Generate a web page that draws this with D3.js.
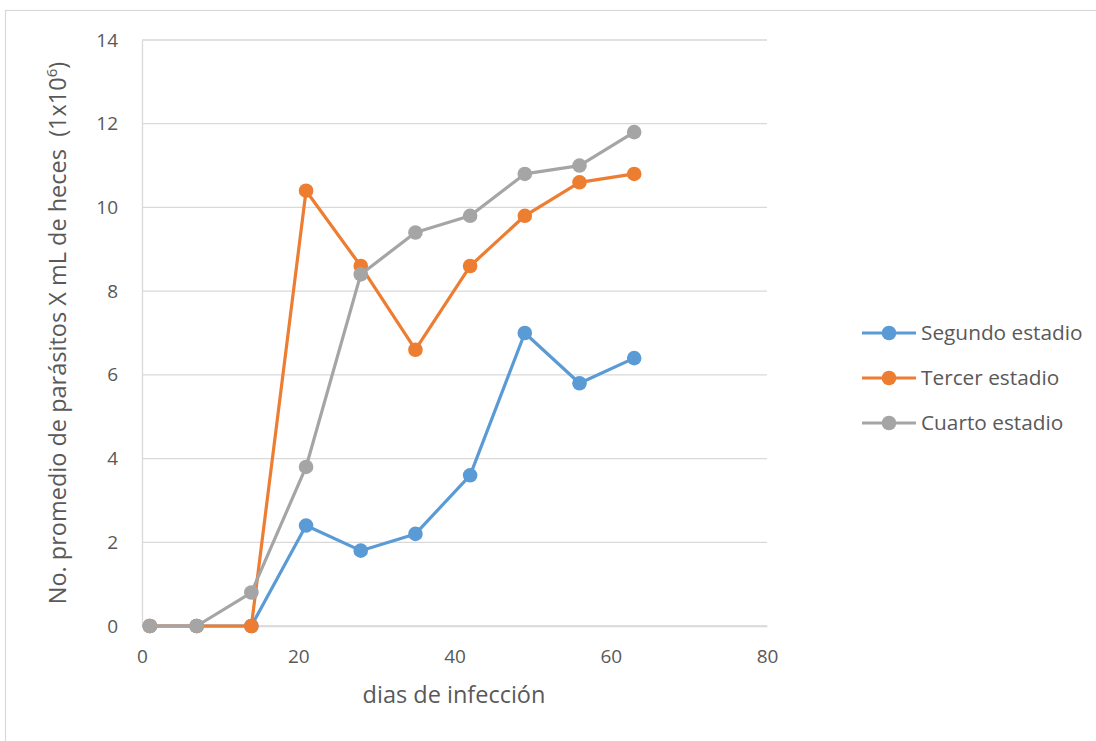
<!DOCTYPE html>
<html>
<head>
<meta charset="utf-8">
<script src="https://cdn.jsdelivr.net/npm/d3@7"></script>
<style>
  body { margin: 0; background: #fff; }
  svg { display: block; font-family: "Open Sans", Lato, sans-serif; }
</style>
</head>
<body>
<svg id="chart" width="1096" height="741"></svg>
<script>
// Days after infection (sampling days)
const days = [1, 7, 14, 21, 28, 35, 42, 49, 56, 63];

// Mean parasite count per mL of faeces (x 10^6), by stage
const segundo = [0, 0, 0, 2.4, 1.8, 2.2, 3.6, 7.0, 5.8, 6.4];
const tercer  = [0, 0, 0, 10.4, 8.6, 6.6, 8.6, 9.8, 10.6, 10.8];
const cuarto  = [0, 0, 0.8, 3.8, 8.4, 9.4, 9.8, 10.8, 11.0, 11.8];

const seriesNames = ["Segundo estadio", "Tercer estadio", "Cuarto estadio"];
const seriesColors = ["#5b9bd5", "#ed7d31", "#a5a5a5"];

const xTicks = [0, 20, 40, 60, 80];
const yTicks = [0, 2, 4, 6, 8, 10, 12, 14];

const series = [segundo, tercer, cuarto].map((vals, i) => ({
  name: seriesNames[i],
  color: seriesColors[i],
  points: days.map((d, j) => ({ x: d, y: vals[j] }))
}));

const svg = d3.select("#chart");
const textColor = "#595959";
const gridColor = "#d9d9d9";
const fontFamily = '"Open Sans", Lato, sans-serif';

// chart frame
svg.append("rect")
  .attr("x", 5.5).attr("y", 10.5)
  .attr("width", 1100).attr("height", 740)
  .attr("fill", "#fff")
  .attr("stroke", gridColor).attr("stroke-width", 1.2);

const plotLeft = 142, plotRight = 767, plotTop = 40, plotBottom = 626;

const x = d3.scaleLinear().domain([0, 80]).range([plotLeft, plotRight]);
const y = d3.scaleLinear().domain([0, 14]).range([plotBottom, plotTop]);

// horizontal gridlines
svg.append("g")
  .selectAll("line")
  .data(yTicks)
  .join("line")
  .attr("x1", plotLeft).attr("x2", plotRight)
  .attr("y1", d => y(d)).attr("y2", d => y(d))
  .attr("stroke", gridColor).attr("stroke-width", 1.3);

// y axis
const yAxis = svg.append("g")
  .attr("transform", `translate(${plotLeft},0)`)
  .call(d3.axisLeft(y).tickValues(yTicks).tickSize(0).tickPadding(24));
yAxis.attr("font-family", fontFamily);
yAxis.select(".domain").attr("stroke", gridColor).attr("stroke-width", 1.3);
yAxis.selectAll("text").attr("fill", textColor).attr("font-size", 19);

// x axis
const xAxis = svg.append("g")
  .attr("transform", `translate(0,${plotBottom})`)
  .call(d3.axisBottom(x).tickValues(xTicks).tickSize(0).tickPadding(24));
xAxis.attr("font-family", fontFamily);
xAxis.select(".domain").attr("stroke", gridColor).attr("stroke-width", 1.3);
xAxis.selectAll("text").attr("fill", textColor).attr("font-size", 19);

// axis titles
svg.append("text")
  .attr("x", (plotLeft + plotRight) / 2 - 0.5).attr("y", 703)
  .attr("text-anchor", "middle")
  .attr("fill", textColor).attr("font-size", 23.5)
  .text("dias de infección");

const yTitle = svg.append("text")
  .attr("transform", `translate(66,${(plotTop + plotBottom) / 2}) rotate(-90)`)
  .attr("text-anchor", "middle")
  .attr("fill", textColor).attr("font-size", 23.5);
yTitle.append("tspan").text("No. promedio de parásitos X mL de heces\u00a0\u00a0(1x10");
yTitle.append("tspan").attr("dy", -9).attr("font-size", 15).text("6");
yTitle.append("tspan").attr("dy", 9).text(")");

// lines and markers
const line = d3.line().x(d => x(d.x)).y(d => y(d.y));

const sg = svg.append("g")
  .selectAll("g")
  .data(series)
  .join("g");

sg.append("path")
  .attr("d", d => line(d.points))
  .attr("fill", "none")
  .attr("stroke", d => d.color)
  .attr("stroke-width", 3.2)
  .attr("stroke-linejoin", "round");

sg.selectAll("circle")
  .data(d => d.points.map(p => ({ ...p, color: d.color })))
  .join("circle")
  .attr("cx", d => x(d.x)).attr("cy", d => y(d.y))
  .attr("r", 7.3)
  .attr("fill", d => d.color);

// legend
const legend = svg.append("g")
  .selectAll("g")
  .data(series)
  .join("g")
  .attr("transform", (d, i) => `translate(862,${333 + i * 45})`);

legend.append("line")
  .attr("x1", 0).attr("x2", 54)
  .attr("stroke", d => d.color).attr("stroke-width", 3.2);
legend.append("circle")
  .attr("cx", 27).attr("r", 7.3)
  .attr("fill", d => d.color);
legend.append("text")
  .attr("x", 59).attr("dy", "0.35em")
  .attr("fill", textColor).attr("font-size", 20.8)
  .text(d => d.name);
</script>
</body>
</html>
